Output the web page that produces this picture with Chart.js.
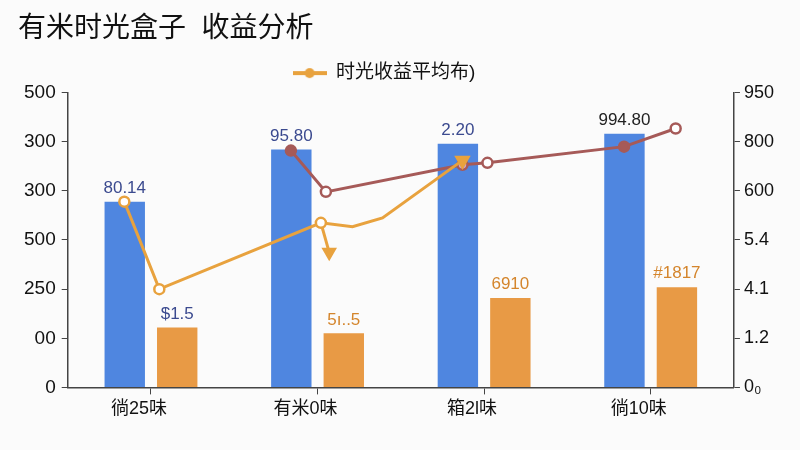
<!DOCTYPE html>
<html>
<head>
<meta charset="utf-8">
<script src="https://cdn.jsdelivr.net/npm/chart.js@4.4.1/dist/chart.umd.min.js"></script>
<style>
  html, body { margin: 0; padding: 0; background: #fbfbfb; }
  #wrap { width: 800px; height: 450px; }
</style>
</head>
<body>
<div id="wrap"><canvas id="myChart"></canvas></div>
<script>
// categories and tick labels as printed in the picture
var categories = ['徜25味', '有米0味', '箱2l味', '徜10味'];
var leftTicks = ['0', '00', '250', '500', '300', '300', '500'];
var rightTicks = ['0₀', '1.2', '4.1', '5.4', '600', '800', '950'];

// bar heights (one tick step = 100)
var blueValues = [378, 484, 496, 516];
var orangeValues = [122, 110, 182, 204];
var blueLabels = ['80.14', '95.80', '2.20', '994.80'];
var orangeLabels = ['$1.5', '5ı..5', '6910', '#1817'];

// line series, x in category positions, y in the same tick steps
var avgX = [-0.16, 0.05, 1.02, 1.21, 1.39, 1.87];
var avgY = [378, 200, 335, 327, 345, 462];
var arrowX = [1.02, 1.07];
var arrowY = [335, 275];
var redX = [0.84, 1.05, 1.87, 2.02, 2.84, 3.15];
var redY = [482, 398, 453, 457, 490, 527];

var FONT = "'Liberation Sans', 'Noto Sans CJK SC', sans-serif";
var ORANGE = '#e89a45';
var LINE_ORANGE = '#e8a23e';
var BLUE = '#4f86e0';
var RED = '#a65a58';

function pts(xs, ys) {
    return xs.map(function (x, i) { return { x: x, y: ys[i] }; });
}
var catIndex = categories.map(function (c, i) { return i; });

// legend marker: line with a dot in the middle
var legendIcon = document.createElement('canvas');
legendIcon.width = 34; legendIcon.height = 12;
(function () {
    var c = legendIcon.getContext('2d');
    c.strokeStyle = LINE_ORANGE; c.lineWidth = 4;
    c.beginPath(); c.moveTo(0, 6); c.lineTo(34, 6); c.stroke();
    c.fillStyle = LINE_ORANGE;
    c.beginPath(); c.arc(17, 6, 5, 0, Math.PI * 2); c.fill();
})();

// value labels above the bars
var barLabels = {
    id: 'barLabels',
    afterDatasetsDraw: function (chart) {
        var ctx = chart.ctx;
        ctx.save();
        ctx.font = '17px ' + FONT;
        ctx.textAlign = 'center';
        ctx.textBaseline = 'bottom';
        chart.getDatasetMeta(0).data.forEach(function (bar, i) {
            ctx.fillStyle = i === 3 ? '#222222' : '#3b4a8f';
            ctx.fillText(blueLabels[i], bar.x, bar.y - 5);
        });
        chart.getDatasetMeta(1).data.forEach(function (bar, i) {
            ctx.fillStyle = i === 0 ? '#3b4a8f' : '#d4852c';
            ctx.fillText(orangeLabels[i], bar.x, bar.y - 5);
        });
        ctx.restore();
    }
};

// legend sits a bit left of centre in the picture
var legendShift = {
    id: 'legendShift',
    afterLayout: function (chart) {
        chart.legend.left -= 14;
        chart.legend.right -= 14;
    }
};

var ctx = document.getElementById('myChart').getContext('2d');
var myChart = new Chart(ctx, {
    data: {
        datasets: [{
            type: 'bar',
            label: 'blue',
            data: pts(catIndex, blueValues),
            backgroundColor: BLUE,
            categoryPercentage: 0.63,
            barPercentage: 0.77,
            order: 3
        }, {
            type: 'bar',
            label: 'orange',
            data: pts(catIndex, orangeValues),
            backgroundColor: ORANGE,
            categoryPercentage: 0.63,
            barPercentage: 0.77,
            order: 3
        }, {
            type: 'line',
            label: '时光收益平均布)',
            data: pts(avgX, avgY),
            borderColor: LINE_ORANGE,
            borderWidth: 3,
            pointRadius: [5, 5, 5, 0, 0, 7],
            pointStyle: ['circle', 'circle', 'circle', 'circle', 'circle', 'triangle'],
            rotation: [0, 0, 0, 0, 0, 180],
            pointBackgroundColor: ['#ffffff', '#ffffff', '#ffffff', '#ffffff', '#ffffff', LINE_ORANGE],
            pointBorderColor: LINE_ORANGE,
            pointBorderWidth: 2.5,
            tension: 0,
            order: 1
        }, {
            type: 'line',
            label: 'arrow',
            data: pts(arrowX, arrowY),
            borderColor: LINE_ORANGE,
            borderWidth: 3,
            pointRadius: [0, 6],
            pointStyle: 'triangle',
            rotation: 180,
            pointBackgroundColor: LINE_ORANGE,
            pointBorderColor: LINE_ORANGE,
            order: 1
        }, {
            type: 'line',
            label: 'red',
            data: pts(redX, redY),
            borderColor: RED,
            borderWidth: 3,
            pointRadius: 5,
            pointBackgroundColor: [RED, '#ffffff', '#c9a6cf', '#ffffff', RED, '#ffffff'],
            pointBorderColor: RED,
            pointBorderWidth: 2.5,
            tension: 0,
            order: 2
        }]
    },
    options: {
        responsive: true,
        maintainAspectRatio: false,
        animation: false,
        layout: { padding: { left: 18, right: 22, top: 4, bottom: 26 } },
        plugins: {
            title: {
                display: true,
                text: '有米时光盒子  收益分析',
                align: 'start',
                color: '#111111',
                font: { family: FONT, size: 28, weight: 'normal' },
                padding: { top: 8, bottom: 10 }
            },
            legend: {
                display: true,
                labels: {
                    filter: function (item) { return item.text === '时光收益平均布)'; },
                    usePointStyle: true,
                    pointStyle: legendIcon,
                    pointStyleWidth: 34,
                    color: '#111111',
                    font: { family: FONT, size: 19 },
                    padding: 8
                }
            },
            tooltip: { enabled: false }
        },
        scales: {
            x: {
                type: 'linear',
                position: 'bottom',
                offset: false,
                min: -0.5,
                max: categories.length - 0.5,
                afterBuildTicks: function (axis) {
                    axis.ticks = catIndex.map(function (i) { return { value: i }; });
                },
                grid: { display: true, drawOnChartArea: false, offset: false, tickLength: 7, color: '#444444' },
                border: { display: true, color: '#444444', width: 1.5 },
                ticks: {
                    color: '#111111',
                    font: { family: FONT, size: 18 },
                    labelOffset: -12,
                    padding: 4,
                    callback: function (v) { return categories[v]; }
                }
            },
            y: {
                position: 'left',
                min: 0,
                max: 600,
                grid: { display: true, drawOnChartArea: false, tickLength: 6, color: '#444444' },
                border: { display: true, color: '#444444', width: 1.5 },
                ticks: {
                    stepSize: 100,
                    color: '#111111',
                    font: { family: FONT, size: 19 },
                    padding: 6,
                    callback: function (v) { return leftTicks[Math.round(v / 100)]; }
                }
            },
            y1: {
                position: 'right',
                min: 0,
                max: 600,
                grid: { display: true, drawOnChartArea: false, tickLength: 6, color: '#444444' },
                border: { display: true, color: '#444444', width: 1.5 },
                ticks: {
                    stepSize: 100,
                    color: '#111111',
                    font: { family: FONT, size: 18 },
                    padding: 4,
                    callback: function (v) { return rightTicks[Math.round(v / 100)]; }
                }
            }
        }
    },
    plugins: [barLabels, legendShift]
});
</script>
</body>
</html>
